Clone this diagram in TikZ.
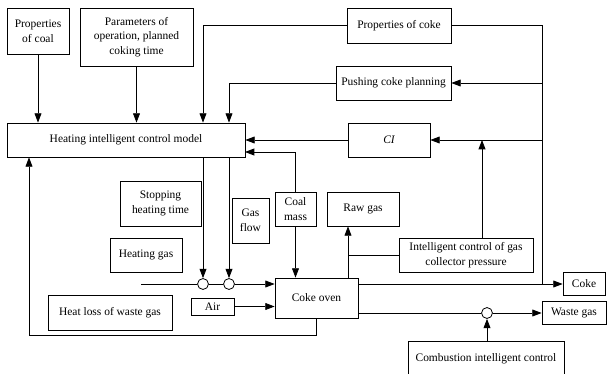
\documentclass[tikz,border=0pt]{standalone}
\usepackage{fontspec}
\setmainfont{Liberation Serif}
\usetikzlibrary{arrows.meta,calc}
\begin{document}
\begin{tikzpicture}[x=0.75pt,y=-0.75pt,
  every node/.style={font=\fontsize{8.6}{11}\selectfont},
  box/.style={draw,line width=0.6pt,rectangle,inner sep=0pt,align=center},
  junc/.style={draw,line width=0.6pt,circle,fill=white,inner sep=0pt,minimum size=8.2pt},
  arr/.style={line width=0.6pt,-{Triangle[length=7pt,width=5.2pt]}},
  ln/.style={line width=0.6pt}]
\useasboundingbox (0,0) rectangle (607,374);
% boxes
\node[box,minimum width=62*0.75pt,minimum height=46*0.75pt] (coal) at (38,31) {Properties\\of coal};
\node[box,minimum width=113*0.75pt,minimum height=58*0.75pt] (params) at (136.5,37) {Parameters of\\operation, planned\\coking time};
\node[box,minimum width=104*0.75pt,minimum height=35*0.75pt] (pcoke) at (399,25.5) {Properties of coke};
\node[box,minimum width=115*0.75pt,minimum height=34*0.75pt] (push) at (393.5,83) {Pushing coke planning};
\node[box,minimum width=238*0.75pt,minimum height=34*0.75pt] (model) at (126,140) {Heating intelligent control model};
\node[box,minimum width=82*0.75pt,minimum height=34*0.75pt] (CI) at (389,140) {\itshape CI};
\node[box,minimum width=81*0.75pt,minimum height=45*0.75pt] (stop) at (160.5,203.5) {Stopping\\heating time};
\node[box,minimum width=37*0.75pt,minimum height=45*0.75pt] (gasflow) at (250.5,220.5) {Gas\\flow};
\node[box,minimum width=41*0.75pt,minimum height=34*0.75pt] (coalmass) at (295.5,209) {Coal\\mass};
\node[box,minimum width=72*0.75pt,minimum height=34*0.75pt] (rawgas) at (363,209) {Raw gas};
\node[box,minimum width=72*0.75pt,minimum height=34*0.75pt] (heatgas) at (146,255) {Heating gas};
\node[box,minimum width=134*0.75pt,minimum height=34*0.75pt] (icgcp) at (466,255) {Intelligent control of gas\\collector pressure};
\node[box,minimum width=83*0.75pt,minimum height=40*0.75pt] (oven) at (316.5,298) {Coke oven};
\node[box,minimum width=43*0.75pt,minimum height=17*0.75pt] (air) at (212.5,306.5) {Air};
\node[box,minimum width=124*0.75pt,minimum height=35*0.75pt] (heatloss) at (110,312.5) {Heat loss of waste gas};
\node[box,minimum width=42*0.75pt,minimum height=23*0.75pt] (coke) at (584,283.5) {Coke};
\node[box,minimum width=64*0.75pt,minimum height=23*0.75pt] (waste) at (574,312.5) {Waste gas};
\node[box,minimum width=156*0.75pt,minimum height=35*0.75pt] (comb) at (486,358.5) {Combustion intelligent control};
% junctions
\node[junc] (c1) at (203,284) {};
\node[junc] (c2) at (229,284) {};
\node[junc] (c3) at (487,313) {};
% helper coordinates
\coordinate (jr) at (542,284);
\coordinate (m2) at (245,152);
\coordinate (gs) at (141,284);
\coordinate (rgx) at (348,0);
\coordinate (icx) at (482,0);
\coordinate (fb) at (29,335);
% connectors
\draw[arr] (coal.south) -- (coal.south |- model.north);
\draw[arr] (params.south) -- (params.south |- model.north);
\draw[arr] (pcoke.west) -| (c1 |- model.north);
\draw[ln] (pcoke.east) -| (jr);
\draw[arr] (jr |- push.east) -- (push.east);
\draw[arr] (jr |- CI.east) -- (CI.east);
\draw[arr] (push.west) -| (c2 |- model.north);
\draw[arr] (CI.west) -- (model.east);
\draw[arr] (coalmass.north) |- (m2);
\draw[arr] (coalmass.south) -- (coalmass.south |- oven.north);
\draw[arr] (c1 |- model.south) -- (c1.north);
\draw[arr] (c2 |- model.south) -- (c2.north);
\draw[ln] (gs) -- (c1.west);
\draw[ln] (c1.east) -- (c2.west);
\draw[arr] (c2.east) -- (oven.west |- c2);
\draw[arr] (air.east) -- (oven.west |- air);
\draw[arr] (oven.north -| rgx) -- (rawgas.south -| rgx);
\draw[ln] (icgcp.west) -- (rgx |- icgcp.west);
\draw[arr] (icgcp.north -| icx) -- (icx |- CI.east);
\draw[arr] (oven.east |- jr) -- (coke.west |- jr);
\draw[ln] (oven.east |- c3) -- (c3.west);
\draw[arr] (c3.east) -- (waste.west |- c3);
\draw[arr] (c3 |- comb.north) -- (c3.south);
\draw[arr] (oven.south) |- (fb) -- (fb |- model.south);
\end{tikzpicture}
\end{document}
